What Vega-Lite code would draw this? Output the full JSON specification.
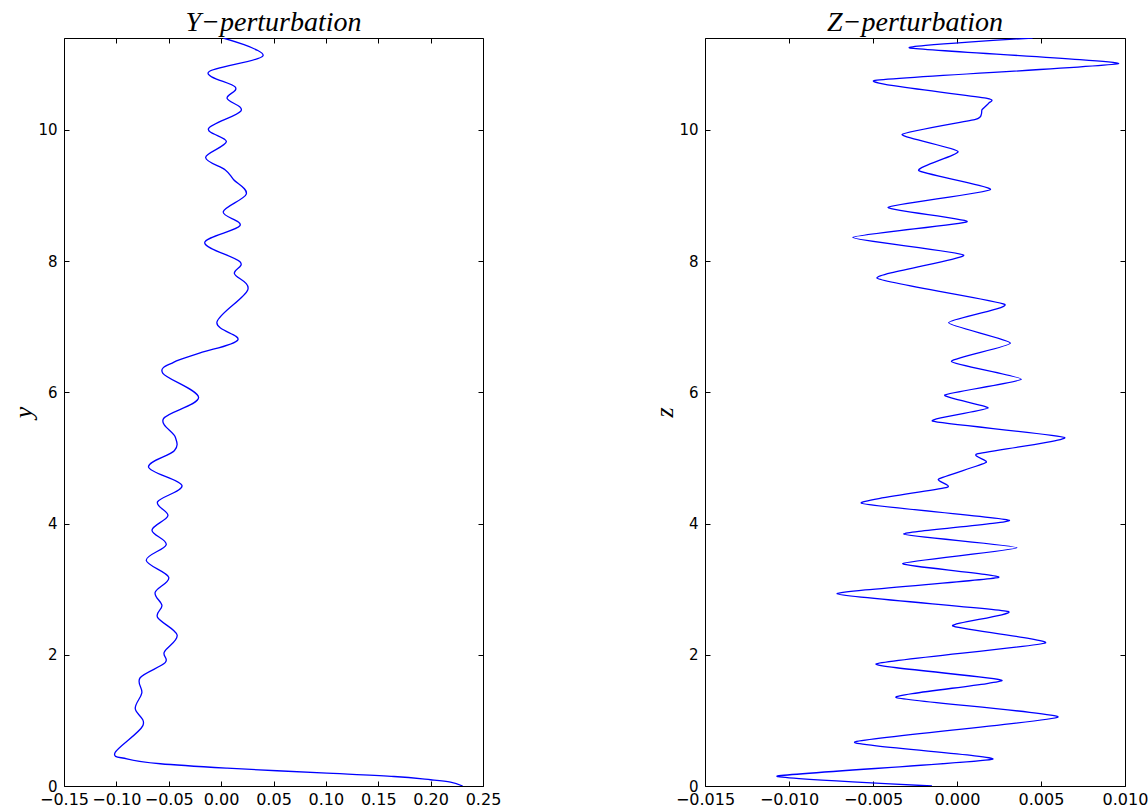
{
  "$schema": "https://vega.github.io/schema/vega-lite/v6.json",
  "background": "white",
  "padding": {"left": 10, "top": 8, "right": 0, "bottom": 0},
  "bounds": "flush",
  "spacing": 222,
  "config": {
    "view": {"stroke": "black", "strokeWidth": 1},
    "axis": {
      "domain": false,
      "grid": false,
      "labelFont": "DejaVu Sans",
      "labelFontSize": 15,
      "labelColor": "black",
      "tickColor": "black",
      "tickSize": -5,
      "tickWidth": 1,
      "titleFont": "Liberation Serif",
      "titleFontStyle": "italic",
      "titleFontWeight": "normal",
      "titleFontSize": 26,
      "titleColor": "black"
    },
    "axisBottom": {"labelFontSize": 16},
    "title": {"font": "Liberation Serif", "fontStyle": "italic", "fontWeight": "normal", "fontSize": 28, "color": "black", "baseline": "alphabetic", "offset": -2}
  },
  "datasets": {
    "ypert": [
      {"y": 11.40, "x": 0.002},
      {"y": 11.13, "x": 0.040},
      {"y": 10.88, "x": -0.012},
      {"y": 10.65, "x": 0.0136},
      {"y": 10.48, "x": 0.0057},
      {"y": 10.29, "x": 0.019},
      {"y": 10.02, "x": -0.012},
      {"y": 9.82, "x": 0.005},
      {"y": 9.58, "x": -0.0148},
      {"y": 9.39, "x": 0.004},
      {"y": 9.24, "x": 0.012},
      {"y": 9.02, "x": 0.024},
      {"y": 8.75, "x": 0.002},
      {"y": 8.54, "x": 0.018},
      {"y": 8.28, "x": -0.0157},
      {"y": 7.99, "x": 0.018},
      {"y": 7.81, "x": 0.0127},
      {"y": 7.56, "x": 0.0254},
      {"y": 7.07, "x": -0.004},
      {"y": 6.80, "x": 0.016},
      {"y": 6.60, "x": -0.020},
      {"y": 6.46, "x": -0.045},
      {"y": 6.29, "x": -0.0556},
      {"y": 5.92, "x": -0.0215},
      {"y": 5.60, "x": -0.055},
      {"y": 5.32, "x": -0.0438},
      {"y": 5.11, "x": -0.0447},
      {"y": 4.86, "x": -0.0693},
      {"y": 4.58, "x": -0.0374},
      {"y": 4.33, "x": -0.0607},
      {"y": 4.12, "x": -0.0508},
      {"y": 3.90, "x": -0.066},
      {"y": 3.68, "x": -0.0524},
      {"y": 3.44, "x": -0.0715},
      {"y": 3.18, "x": -0.050},
      {"y": 2.95, "x": -0.063},
      {"y": 2.75, "x": -0.0565},
      {"y": 2.57, "x": -0.0607},
      {"y": 2.30, "x": -0.042},
      {"y": 2.04, "x": -0.0543},
      {"y": 1.88, "x": -0.0534},
      {"y": 1.65, "x": -0.0773},
      {"y": 1.42, "x": -0.0757},
      {"y": 1.18, "x": -0.082},
      {"y": 0.92, "x": -0.0747},
      {"y": 0.51, "x": -0.1012},
      {"y": 0.415, "x": -0.090},
      {"y": 0.339, "x": -0.058},
      {"y": 0.272, "x": 0.0057},
      {"y": 0.195, "x": 0.101},
      {"y": 0.145, "x": 0.165},
      {"y": 0.095, "x": 0.200},
      {"y": 0.058, "x": 0.219},
      {"y": 0.0, "x": 0.2306}
    ],
    "zpert": [
      {"y": 11.40, "x": 0.0045},
      {"y": 11.25, "x": -0.00283},
      {"y": 11.01, "x": 0.00962},
      {"y": 10.75, "x": -0.00494},
      {"y": 10.48, "x": 0.00179},
      {"y": 10.41, "x": 0.0019},
      {"y": 10.31, "x": 0.00149},
      {"y": 10.24, "x": 0.00145},
      {"y": 10.16, "x": 0.0011},
      {"y": 9.93, "x": -0.00327},
      {"y": 9.67, "x": 0.00006},
      {"y": 9.38, "x": -0.00228},
      {"y": 9.09, "x": 0.00199},
      {"y": 8.82, "x": -0.0041},
      {"y": 8.60, "x": 0.0006},
      {"y": 8.36, "x": -0.0062},
      {"y": 8.09, "x": 0.0004},
      {"y": 7.74, "x": -0.00476},
      {"y": 7.34, "x": 0.00284},
      {"y": 7.06, "x": -0.0005},
      {"y": 6.75, "x": 0.00318},
      {"y": 6.47, "x": -0.00033},
      {"y": 6.20, "x": 0.00383},
      {"y": 5.96, "x": -0.00073},
      {"y": 5.76, "x": 0.00185},
      {"y": 5.56, "x": -0.00145},
      {"y": 5.31, "x": 0.00641},
      {"y": 5.06, "x": 0.0012},
      {"y": 4.93, "x": 0.00173},
      {"y": 4.68, "x": -0.00109},
      {"y": 4.55, "x": -0.0006},
      {"y": 4.31, "x": -0.00569},
      {"y": 4.05, "x": 0.00312},
      {"y": 3.84, "x": -0.00317},
      {"y": 3.63, "x": 0.00357},
      {"y": 3.39, "x": -0.00323},
      {"y": 3.18, "x": 0.00248},
      {"y": 2.93, "x": -0.00714},
      {"y": 2.66, "x": 0.00304},
      {"y": 2.44, "x": -0.00026},
      {"y": 2.18, "x": 0.00526},
      {"y": 1.86, "x": -0.00482},
      {"y": 1.61, "x": 0.00268},
      {"y": 1.35, "x": -0.00363},
      {"y": 1.05, "x": 0.00601},
      {"y": 0.67, "x": -0.00609},
      {"y": 0.41, "x": 0.00213},
      {"y": 0.15, "x": -0.01071},
      {"y": 0.0, "x": -0.00149}
    ]
  },
  "hconcat": [
    {
      "width": 419,
      "height": 748,
      "title": {"text": "Y−perturbation"},
      "data": {"name": "ypert"},
      "layer": [
        {
          "mark": {"type": "line", "color": "#0000ff", "strokeWidth": 1.3, "interpolate": "cardinal", "tension": 0, "clip": true},
          "encoding": {
            "x": {"field": "x", "type": "quantitative", "scale": {"domain": [-0.15, 0.25], "nice": false, "zero": false},
                  "axis": {"orient": "bottom", "values": [-0.15, -0.1, -0.05, 0, 0.05, 0.1, 0.15, 0.2, 0.25], "format": ".2f", "title": null, "labelPadding": 10, "labelFlush": false}},
            "y": {"field": "y", "type": "quantitative", "scale": {"domain": [0, 11.4], "nice": false, "zero": false},
                  "axis": {"orient": "left", "values": [0, 2, 4, 6, 8, 10], "format": "d", "title": "y", "labelPadding": 12, "titlePadding": 1, "labelFlush": false}},
            "order": {"field": "y", "type": "quantitative"}
          }
        },
        {
          "mark": {"type": "point", "opacity": 0},
          "encoding": {
            "x": {"field": "x", "type": "quantitative", "axis": {"orient": "top", "values": [-0.15, -0.1, -0.05, 0, 0.05, 0.1, 0.15, 0.2, 0.25], "labels": false, "title": null}},
            "y": {"field": "y", "type": "quantitative", "axis": {"orient": "right", "values": [0, 2, 4, 6, 8, 10], "labels": false, "title": null}}
          }
        }
      ],
      "resolve": {"axis": {"x": "independent", "y": "independent"}}
    },
    {
      "width": 420,
      "height": 748,
      "title": {"text": "Z−perturbation"},
      "data": {"name": "zpert"},
      "layer": [
        {
          "mark": {"type": "line", "color": "#0000ff", "strokeWidth": 1.3, "interpolate": "cardinal", "tension": 0.5, "clip": true},
          "encoding": {
            "x": {"field": "x", "type": "quantitative", "scale": {"domain": [-0.015, 0.010], "nice": false, "zero": false},
                  "axis": {"orient": "bottom", "values": [-0.015, -0.01, -0.005, 0, 0.005, 0.01], "format": ".3f", "title": null, "labelPadding": 10, "labelFlush": false}},
            "y": {"field": "y", "type": "quantitative", "scale": {"domain": [0, 11.4], "nice": false, "zero": false},
                  "axis": {"orient": "left", "values": [0, 2, 4, 6, 8, 10], "format": "d", "title": "z", "labelPadding": 12, "titlePadding": 1, "labelFlush": false}},
            "order": {"field": "y", "type": "quantitative"}
          }
        },
        {
          "mark": {"type": "point", "opacity": 0},
          "encoding": {
            "x": {"field": "x", "type": "quantitative", "axis": {"orient": "top", "values": [-0.015, -0.01, -0.005, 0, 0.005, 0.01], "labels": false, "title": null}},
            "y": {"field": "y", "type": "quantitative", "axis": {"orient": "right", "values": [0, 2, 4, 6, 8, 10], "labels": false, "title": null}}
          }
        }
      ],
      "resolve": {"axis": {"x": "independent", "y": "independent"}}
    }
  ]
}
